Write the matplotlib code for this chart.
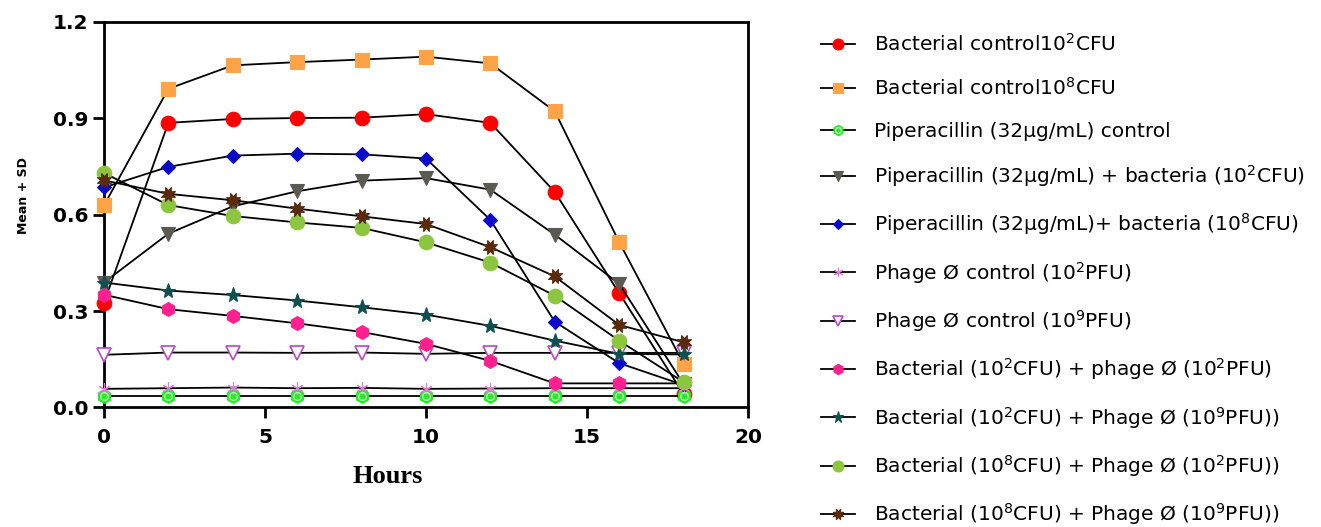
import numpy as np
import matplotlib
matplotlib.use("Agg")
import matplotlib.pyplot as plt
from matplotlib.legend_handler import HandlerTuple

plt.rcParams['font.family'] = ['DejaVu Sans']
plt.rcParams['mathtext.default'] = 'regular'

# Données
hours = [0, 2, 4, 6, 8, 10, 12, 14, 16, 18]

labels = [
    "Bacterial control10$^2$CFU",
    "Bacterial control10$^8$CFU",
    "Piperacillin (32µg/mL) control",
    "Piperacillin (32µg/mL) + bacteria (10$^2$CFU)",
    "Piperacillin (32µg/mL)+ bacteria (10$^8$CFU)",
    "Phage Ø control (10$^2$PFU)",
    "Phage Ø control (10$^9$PFU)",
    "Bacterial (10$^2$CFU) + phage Ø (10$^2$PFU)",
    "Bacterial (10$^2$CFU) + Phage Ø (10$^9$PFU))",
    "Bacterial (10$^8$CFU) + Phage Ø (10$^2$PFU))",
    "Bacterial (10$^8$CFU) + Phage Ø (10$^9$PFU))",
]

bact_1e2 = [0.326, 0.886, 0.898, 0.901, 0.902, 0.913, 0.886, 0.671, 0.356, 0.042]
bact_1e8 = [0.629, 0.992, 1.065, 1.075, 1.083, 1.092, 1.071, 0.922, 0.515, 0.136]
pip_ctrl = [0.037, 0.037, 0.037, 0.037, 0.037, 0.037, 0.037, 0.037, 0.037, 0.037]
pip_b1e2 = [0.389, 0.541, 0.626, 0.673, 0.706, 0.714, 0.678, 0.538, 0.385, 0.073]
pip_b1e8 = [0.685, 0.749, 0.784, 0.790, 0.788, 0.775, 0.584, 0.267, 0.138, 0.070]
phage_1e2 = [0.058, 0.060, 0.062, 0.060, 0.061, 0.058, 0.059, 0.060, 0.060, 0.060]
phage_1e9 = [0.164, 0.171, 0.171, 0.170, 0.171, 0.167, 0.170, 0.170, 0.170, 0.170]
b2_p2 = [0.351, 0.306, 0.285, 0.262, 0.235, 0.198, 0.145, 0.075, 0.075, 0.075]
b2_p9 = [0.389, 0.364, 0.350, 0.333, 0.312, 0.289, 0.254, 0.208, 0.167, 0.165]
b8_p2 = [0.730, 0.630, 0.596, 0.576, 0.559, 0.514, 0.451, 0.348, 0.208, 0.079]
b8_p9 = [0.707, 0.665, 0.645, 0.619, 0.595, 0.571, 0.499, 0.408, 0.257, 0.203]

series = [bact_1e2, bact_1e8, pip_ctrl, pip_b1e2, pip_b1e8, phage_1e2,
          phage_1e9, b2_p2, b2_p9, b8_p2, b8_p9]

# Style des marqueurs (couleur, forme, taille)
styles = [
    dict(marker='o', color='#ff0000', ms=10.5),
    dict(marker='s', color='#ffa347', ms=9.5),
    dict(marker='h', color='#22ee22', ms=10),
    dict(marker='v', color='#5c5a50', ms=10),
    dict(marker='D', color='#0a0ac8', ms=7),
    dict(marker=(6, 2, 0), color='#e07be0', ms=9),
    dict(marker='v', color='#b848c8', ms=10, open=True),
    dict(marker='h', color='#ff1f8e', ms=10),
    dict(marker='*', color='#0f4f4f', ms=11),
    dict(marker='o', color='#8cc63e', ms=10.5),
    dict(marker=(8, 1, 22.5), color='#5a2a0c', ms=11),
]

fig = plt.figure(figsize=(13.21, 5.27), dpi=100)
ax = fig.add_axes([0.0787, 0.2268, 0.4875, 0.7315])

handles = []
for y, lab, st in zip(series, labels, styles):
    face = 'white' if st.get('open') else st['color']
    ln, = ax.plot(hours, y, '-', color='black', lw=1.3,
                  marker=st['marker'], ms=st['ms'], mfc=face,
                  mec=st['color'], mew=1.2 if st.get('open') else 0.8,
                  clip_on=False, zorder=3)
    if st['marker'] == 'h' and st['color'] == '#22ee22':
        # petit cercle à l'intérieur de l'hexagone
        ln2, = ax.plot(hours, y, linestyle='none', marker='o', ms=5.5,
                       mfc='none', mec='#c8ffc8', mew=0.9, clip_on=False, zorder=4)
        handles.append((ln, ln2))
    else:
        handles.append(ln)

ax.set_xlim(0, 20)
ax.set_ylim(0, 1.2)
ax.set_xticks([0, 5, 10, 15, 20])
ax.set_yticks([0.0, 0.3, 0.6, 0.9, 1.2])
ax.set_yticklabels(["0.0", "0.3", "0.6", "0.9", "1.2"])

for s in ax.spines.values():
    s.set_linewidth(2.0)
ax.tick_params(axis='both', direction='out', length=8, width=2.0,
               labelsize=14.5)
ax.tick_params(axis='x', pad=7)
ax.tick_params(axis='y', pad=3)
for t in ax.get_xticklabels() + ax.get_yticklabels():
    t.set_fontweight('bold')

ax.set_xlabel("Hours", family=['Liberation Serif', 'DejaVu Serif'],
              fontsize=19, fontweight='bold')
ax.xaxis.set_label_coords(0.44, -0.148)
ax.set_ylabel("Mean + SD", fontsize=9, fontweight='bold')
ax.yaxis.set_label_coords(-0.115, 0.551)

fig.legend(handles, labels, loc='upper left',
           bbox_to_anchor=(0.6075, 0.972), frameon=False, fontsize=14.5,
           handlelength=1.7, handletextpad=0.95, labelspacing=1.115,
           markerscale=0.75,
           handler_map={tuple: HandlerTuple(ndivide=1)})

fig.savefig("out.png", dpi=100)
